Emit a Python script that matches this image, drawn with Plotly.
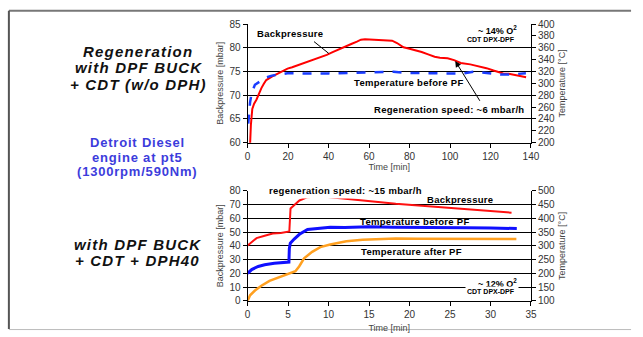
import plotly.graph_objects as go

# ---------------- data ----------------
# Top chart: regeneration without DPH (time in min)
top_bp_x = [1.2, 1.6, 2.3, 3.2, 4.4, 5.5, 6.8, 8, 9.2, 12, 14.9, 17, 19.7, 22, 24.6, 28, 31, 35, 39.1, 42,
            45.5, 48, 51.2, 54, 56, 58, 61, 65, 68, 71.4, 73.8, 77, 80, 82.7, 86, 89.2, 92.4, 95, 98.8, 102,
            105.3, 110, 115, 118, 121.5, 124, 126.3, 129, 131, 134, 137.6]
top_bp_y = [59.5, 63.7, 67.1, 68.2, 69.1, 70.3, 71.5, 72.4, 73.2, 73.9, 74.6, 75.1, 75.6, 75.9, 76.3, 76.8, 77.3,
            77.8, 78.5, 79.1, 79.8, 80.3, 80.8, 81.3, 81.7, 81.8, 81.7, 81.7, 81.6, 81.5, 81.0, 80.1, 79.8, 79.5,
            79.1, 78.6, 78.1, 77.9, 77.8, 77.4, 76.8, 76.5, 76.1, 75.7, 75.2, 74.9, 74.6, 74.5, 74.4, 74.1, 73.8]

top_t_x = [0.3, 0.6, 1.2, 2, 3.6, 6, 9.2, 12, 14.9, 19.7, 25, 30, 40, 50, 60, 65, 72, 80, 90, 100, 106,
           111.8, 116, 120, 125, 130, 134, 137.5]
top_t_y = [232, 250, 268, 284, 297.6, 303, 310, 313, 315, 317, 317, 316.5, 316.8, 317.5, 318.5, 318, 319.5,
           317.5, 317, 317.3, 316.5, 319.6, 318, 317, 315, 315, 316, 317]

# Bottom chart: with DPH40
bot_bp_x = [0, 0.5, 1.1, 2.1, 3.1, 4.1, 4.9, 5.15, 5.3, 5.75, 6.4, 7.4, 9, 10.2, 12.2, 15, 18.3, 20.7, 22.3,
            24.4, 26.4, 28.5, 30.4, 32.6]
bot_bp_y = [40.3, 42.6, 45.6, 47.3, 48.9, 49.4, 50.3, 50.5, 67.2, 69.5, 73, 75.4, 76.1, 75.4, 74.2, 72.3, 70.6,
            69.5, 68.8, 67.6, 67.2, 66.2, 65.3, 64.1]

bot_tb_x = [0, 0.5, 1.3, 2.1, 3.3, 4.9, 5.1, 5.15, 5.27, 5.75, 6.4, 7.4, 9, 10.2, 12, 15, 18, 21, 24, 27, 30, 33.25]
bot_tb_y = [200, 213.7, 225, 231, 237, 240.4, 241, 290, 309.5, 324.6, 342, 359.6, 365.6, 368, 367, 369, 368,
            368, 367, 366, 365, 363]

bot_ta_x = [0, 0.3, 0.9, 1.7, 2.7, 3.7, 4.9, 5.5, 5.9, 6.36, 6.97, 7.97, 8.98, 10.2, 12.2, 14.2, 16.2, 18.3,
            21, 24, 27, 30, 33.2]
bot_ta_y = [100, 120, 137.5, 155, 172.7, 184, 196, 202, 207.7, 225, 254.4, 278, 295.5, 305, 316.5, 322.5,
            324.5, 327, 326, 326, 325, 325.5, 324.5]

FONT = "Liberation Sans"
TICKC = "#333333"

fig = go.Figure()
fig.add_trace(go.Scatter(x=top_bp_x, y=top_bp_y, xaxis="x", yaxis="y", mode="lines",
                         line=dict(color="#ff0000", width=2), showlegend=False))
fig.add_trace(go.Scatter(x=top_t_x, y=top_t_y, xaxis="x", yaxis="y2", mode="lines",
                         line=dict(color="#1a3cff", width=2.5, dash="dash"), showlegend=False))
fig.add_trace(go.Scatter(x=bot_bp_x, y=bot_bp_y, xaxis="x2", yaxis="y3", mode="lines",
                         line=dict(color="#ff1010", width=2), showlegend=False))
fig.add_trace(go.Scatter(x=bot_tb_x, y=bot_tb_y, xaxis="x2", yaxis="y4", mode="lines",
                         line=dict(color="#1010ff", width=3), showlegend=False))
fig.add_trace(go.Scatter(x=bot_ta_x, y=bot_ta_y, xaxis="x2", yaxis="y4", mode="lines",
                         line=dict(color="#ffa020", width=2.5), showlegend=False))

XD = [0.3877, 0.8367]
TOPD = [0.5795, 0.9445]
BOTD = [0.0929, 0.4312]

common = dict(showline=True, linecolor="black", linewidth=1, ticks="outside", ticklen=4,
              tickcolor="black", tickfont=dict(family=FONT, size=10, color=TICKC), zeroline=False)
title_font = dict(family=FONT, size=9, color="#444444")

fig.update_layout(
    width=643, height=337,
    margin=dict(l=0, r=0, t=0, b=0),
    paper_bgcolor="white", plot_bgcolor="white",
    showlegend=False,
    xaxis=dict(domain=XD, range=[0, 140], dtick=20, anchor="y", showgrid=False,
               title=dict(text="Time [min]", font=title_font, standoff=2), **common),
    yaxis=dict(domain=TOPD, range=[60, 85], dtick=5, anchor="x", showgrid=True,
               gridcolor="black", gridwidth=1,
               title=dict(text="Backpressure [mbar]", font=title_font, standoff=4), **common),
    yaxis2=dict(overlaying="y", side="right", anchor="x", range=[200, 400], dtick=20, showgrid=False,
                title=dict(text="Temperature [°C]", font=title_font, standoff=4), **common),
    xaxis2=dict(domain=XD, range=[0, 35], dtick=5, anchor="y3", showgrid=False,
                title=dict(text="Time [min]", font=title_font, standoff=5), **common),
    yaxis3=dict(domain=BOTD, range=[0, 80], dtick=10, anchor="x2", showgrid=True,
                gridcolor="black", gridwidth=1,
                title=dict(text="Backpressure [mbar]", font=title_font, standoff=4), **common),
    yaxis4=dict(overlaying="y3", side="right", anchor="x2", range=[100, 500], dtick=50, showgrid=False,
                title=dict(text="Temperature [°C]", font=title_font, standoff=4), **common),
)

ann_font = dict(family=FONT, size=9.5, color="black", weight="bold")
small_font = dict(family=FONT, size=7, color="black", weight="bold")
annotations = []

def add(text, x, y, xref, yref, font, **kw):
    kw.setdefault("xanchor", "center")
    kw.setdefault("yanchor", "middle")
    annotations.append(dict(text=text, x=x, y=y, xref=xref, yref=yref, showarrow=False, font=font, **kw))

def spaced(t, px):
    return "<span style='letter-spacing:%spx'>%s</span>" % (px, t)

# top chart labels
add(spaced("Backpressure", 0.3), 20.9, 83.1, "x", "y", ann_font)
add(spaced("Temperature before PF", 0.3), 79.8, 72.7, "x", "y", ann_font)
add(spaced("Regeneration speed: ~6 mbar/h", 0.3), 99.7, 67.0, "x", "y", ann_font)
add("~ 14% O<sup>2</sup>", 134, 83.7, "x", "y", dict(family=FONT, size=9, color="black", weight="bold"),
    xanchor="right")
add("CDT DPX-DPF", 133, 81.7, "x", "y", small_font, xanchor="right")
annotations.append(dict(x=102.6, y=77.2, ax=115.2, ay=68.5, xref="x", yref="y", axref="x", ayref="y",
                        text="", showarrow=True, arrowhead=2, arrowsize=1.2, arrowwidth=1, arrowcolor="black"))

# bottom chart labels
add(spaced("regeneration speed: ~15 mbar/h", 0.3), 12.1, 80, "x2", "y3", ann_font, bgcolor="white", borderpad=2)
add(spaced("Backpressure", 0.3), 26.2, 73.5, "x2", "y3", ann_font)
add(spaced("Temperature before PF", 0.3), 20.7, 58, "x2", "y3", ann_font)
add(spaced("Temperature after PF", 0.3), 20.2, 35.6, "x2", "y3", ann_font)
add("~ 12% O<sup>2</sup>", 33.5, 12.6, "x2", "y3", dict(family=FONT, size=9, color="black", weight="bold"),
    xanchor="right", bgcolor="white")
add("CDT DPX-DPF", 33.3, 6.8, "x2", "y3", small_font, xanchor="right", bgcolor="white")

# left side texts (paper coords)
H = 337.0
big = dict(family=FONT, size=15, color="#111111", weight="bold", style="italic")
blue = dict(family=FONT, size=13, color="#3c3cdc", weight="bold")
for txt, py in [("Regeneration", 46.7), ("with DPF BUCK", 63.3), ("+ CDT (w/o DPH)", 81.7)]:
    add(spaced(txt, 1.2), 138 / 643, 1 - py / H, "paper", "paper", big)
for txt, py in [("Detroit Diesel", 141.7), ("engine at pt5", 156.7), ("(1300rpm/590Nm)", 171.7)]:
    add(spaced(txt, 0.8), 137 / 643, 1 - py / H, "paper", "paper", blue)
for txt, py in [("with DPF BUCK", 247.7), ("+ CDT + DPH40", 264.3)]:
    add(spaced(txt, 1.2), 137.5 / 643, 1 - py / H, "paper", "paper", big)

fig.update_layout(annotations=annotations)

# frame lines around the slide area + leader line for top "Backpressure" label
fig.update_layout(shapes=[
    dict(type="line", xref="paper", yref="paper", x0=6 / 643, x1=640 / 643, y0=1 - 5 / H, y1=1 - 5 / H,
         line=dict(color="#777777", width=2)),
    dict(type="line", xref="paper", yref="paper", x0=6 / 643, x1=6 / 643, y0=1 - 5 / H, y1=1 - 335 / H,
         line=dict(color="#555555", width=2)),
    dict(type="line", xref="paper", yref="paper", x0=6 / 643, x1=640 / 643, y0=1 - 335.5 / H, y1=1 - 335.5 / H,
         line=dict(color="#bbbbbb", width=1)),
    dict(type="line", xref="x", yref="y", x0=32.8, y0=81.3, x1=40.1, y1=78.8,
         line=dict(color="black", width=1)),
])

fig.write_html("out.html")
